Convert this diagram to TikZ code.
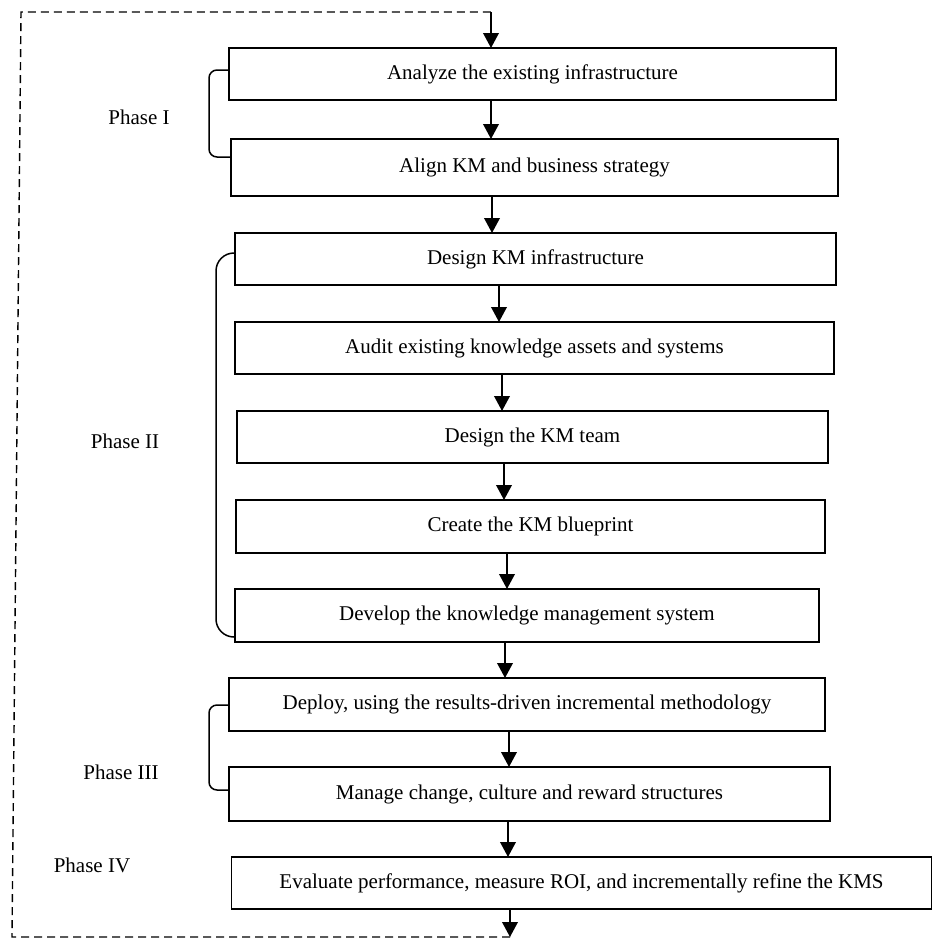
\documentclass[tikz,border=0pt]{standalone}
\usepackage{fontspec}
\setmainfont{Liberation Serif}
\usetikzlibrary{arrows.meta}

\tikzset{
  stepbox/.style={draw=black, line width=0.85pt, align=center,
    font=\fontsize{10.5pt}{12pt}\selectfont},
  phaselabel/.style={font=\fontsize{10.5pt}{12pt}\selectfont},
  arr/.style={draw=black, line width=0.9pt, -{Triangle[length=7.5pt,width=7.8pt]}},
  brk/.style={draw=black, line width=0.75pt},
  loopline/.style={draw=black, line width=0.7pt, dash pattern=on 4pt off 2.5pt}
}

\begin{document}
\begin{tikzpicture}[y=0.50pt, x=0.50pt, yscale=-1.000000, xscale=1.000000, inner sep=0pt, outer sep=0pt]
\useasboundingbox (0,0) rectangle (933,939);

  % phase I
  \node[stepbox, minimum width=303.5pt, minimum height=26pt] (an) at (532.5,74) {Analyze the existing infrastructure};
  \node[stepbox, minimum width=303.5pt, minimum height=28.5pt] (al) at (534.5,167.5) {Align KM and business strategy};
  % phase II
  \node[stepbox, minimum width=300.5pt, minimum height=26pt] (di) at (535.5,259) {Design KM infrastructure};
  \node[stepbox, minimum width=299.5pt, minimum height=26pt] (au) at (534.5,348) {Audit existing knowledge assets and systems};
  \node[stepbox, minimum width=295.5pt, minimum height=26pt] (te) at (532.5,437) {Design the KM team};
  \node[stepbox, minimum width=294.5pt, minimum height=26.5pt] (bp) at (530.5,526.5) {Create the KM blueprint};
  \node[stepbox, minimum width=292pt, minimum height=26.5pt] (dv) at (527,615.5) {Develop the knowledge management system};
  % phase III
  \node[stepbox, minimum width=298pt, minimum height=26.5pt] (dp) at (527,704.5) {Deploy, using the results-driven incremental methodology};
  \node[stepbox, minimum width=300.5pt, minimum height=27pt] (mc) at (529.5,794) {Manage change, culture and reward structures};
  % phase IV
  \node[stepbox, minimum width=350pt, minimum height=26pt] (ev) at (581.5,883) {Evaluate performance, measure ROI, and incrementally refine the KMS};

  \node[phaselabel] (ph1) at (139,117) {Phase I};
  \node[phaselabel] (ph2) at (125,441) {Phase II};
  \node[phaselabel] (ph3) at (121,772) {Phase III};
  \node[phaselabel] (ph4) at (92,865) {Phase IV};

  % flow
  \draw[arr] (an.south -| 491,0) -- (al.north -| 491,0);
  \draw[arr] (al.south -| 492,0) -- (di.north -| 492,0);
  \draw[arr] (di.south -| 499,0) -- (au.north -| 499,0);
  \draw[arr] (au.south -| 502,0) -- (te.north -| 502,0);
  \draw[arr] (te.south -| 504,0) -- (bp.north -| 504,0);
  \draw[arr] (bp.south -| 507,0) -- (dv.north -| 507,0);
  \draw[arr] (dv.south -| 505,0) -- (dp.north -| 505,0);
  \draw[arr] (dp.south -| 509,0) -- (mc.north -| 509,0);
  \draw[arr] (mc.south -| 508,0) -- (ev.north -| 508,0);

  % feedback loop
  \coordinate (lb) at (510,937);
  \coordinate (cbl) at (12,937);
  \coordinate (ctl) at (21,12);
  \coordinate (lt) at (491,12);
  \draw[arr] (ev.south -| lb) -- (lb);
  \draw[loopline] (lb) -- (cbl) -- (ctl) -- (lt);
  \draw[arr] (lt) -- (an.north -| lt);

  % brackets
  \draw[brk, rounded corners=4pt] (an.west |- 0,70) -- (209,70) -- (209,157) -- (al.west |- 0,157);
  \draw[brk, rounded corners=9pt] (di.west |- 0,253) -- (216,253) -- (216,637) -- (dv.west |- 0,637);
  \draw[brk, rounded corners=4pt] (dp.west |- 0,705) -- (209,705) -- (209,790) -- (mc.west |- 0,790);

\end{tikzpicture}
\end{document}
